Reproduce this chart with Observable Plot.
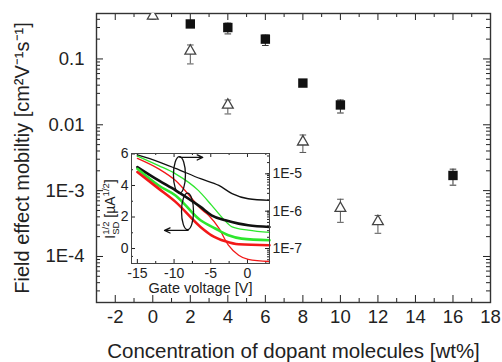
<!DOCTYPE html>
<html>
<head>
<meta charset="utf-8">
<script src="https://cdn.jsdelivr.net/npm/d3@7"></script>
<script src="https://cdn.jsdelivr.net/npm/@observablehq/plot@0.6"></script>
<style>
  html, body { margin: 0; padding: 0; background: #fff; }
  #wrap { position: relative; width: 502px; height: 362px; overflow: hidden; }
  #wrap svg { position: absolute; }
</style>
</head>
<body>
<div id="wrap"></div>
<script>
// ---------------- main chart data ----------------
const squareConc = [2, 4, 6, 8, 10, 16];
const squareMobility = [0.34, 0.30, 0.20, 0.043, 0.020, 0.0017];
const squareLow = [0.31, 0.24, 0.16, 0.041, 0.0151, 0.00121];
const squareHigh = [0.37, 0.35, 0.23, 0.046, 0.0238, 0.00212];

const triangleConc = [0, 2, 4, 8, 10, 12];
const triangleMobility = [0.45, 0.132, 0.020, 0.0055, 0.00054, 0.00034];
const triangleLow = [0.40, 0.084, 0.0146, 0.0038, 0.00033, 0.000225];
const triangleHigh = [0.52, 0.163, 0.0238, 0.0070, 0.00074, 0.00042];

const xTickValues = [-2, 0, 2, 4, 6, 8, 10, 12, 14, 16, 18];
const xMinorValues = [-1, 1, 3, 5, 7, 9, 11, 13, 15, 17];
const yTickValues = [0.1, 0.01, 0.001, 0.0001];
const yTickLabels = ["0.1", "0.01", "1E-3", "1E-4"];
const xLabel = "Concentration of dopant molecules [wt%]";
const yLabel = "Field effect mobiltiy [cm²V⁻¹s⁻¹]";

// ---------------- inset data ----------------
// thick lines: sqrt(I_SD) [µA^1/2], left axis
const vSqrtBlack = [-15, -12.1, -9.8, -6.4, -4.9, -3.0, -1.2, 0.1, 3];
const sqrtBlack  = [5.17, 4.32, 3.69, 2.64, 2.11, 1.79, 1.58, 1.48, 1.37];
const vSqrtGreen = [-15, -12.1, -9.8, -6.4, -4.4, -2.6, -0.8, 3];
const sqrtGreen  = [5.06, 4.0, 3.37, 1.79, 1.27, 0.84, 0.63, 0.53];
const vSqrtRed   = [-15, -12.1, -9.8, -6.4, -4.9, -3.0, -1.2, 3];
const sqrtRed    = [4.85, 3.8, 2.96, 1.37, 0.84, 0.46, 0.27, 0.21];
// thin lines: I_SD [A], right log axis
const vLogBlack = [-15, -12.1, -9.8, -6.4, -3.9, -2.1, 0.1, 3];
const curBlack  = [3.2e-5, 2.1e-5, 1.4e-5, 7.4e-6, 4.9e-6, 2.95e-6, 2.15e-6, 1.95e-6];
const vLogGreen = [-15, -12.1, -9.8, -6.7, -4.9, -3.5, -2.1, 0.1, 3];
const curGreen  = [3.0e-5, 1.66e-5, 1.0e-5, 3.6e-6, 1.45e-6, 6.9e-7, 3.8e-7, 3.1e-7, 2.7e-7];
const vLogRed   = [-15, -12.1, -9.8, -7.5, -6.4, -5.3, -3.9, -2.6, -1.2, 0.1, 3];
const curRed    = [2.6e-5, 1.36e-5, 6.6e-6, 2.1e-6, 1.17e-6, 7.8e-7, 3.5e-7, 1.23e-7, 6.6e-8, 5.1e-8, 4.5e-8];

const insetXTicks = [-15, -10, -5, 0];
const insetXMinor = [-12.5, -7.5, -2.5, 2.5];
const insetYTicks = [0, 2, 4, 6];
const insetYMinor = [-0.5, 1, 3, 5];
const rightTickCurrents = [1e-5, 1e-6, 1e-7];
const rightTickLabels = ["1E-5", "1E-6", "1E-7"];
const insetXLabel = "Gate voltage [V]";

// annotations (ellipse centres, arrows) in inset data units
const ellipseGate = [-9.2, -8.1];
const ellipseSqrt = [4.64, 2.32];
const arrowGate1 = [-9.2, -8.1];
const arrowGate2 = [-6.1, -11.3];
const arrowSqrt = [5.78, 1.15];

// right axis alignment: 1E-7 sits at 0 on the left axis, one decade = 2.37 units
const rightZeroLog = -7, rightDecade = 2.37;
const toLeft = I => rightDecade * (Math.log10(I) - rightZeroLog);

// ---------------- styling ----------------
const FONT = "'Liberation Sans', Arial, Helvetica, sans-serif";
const INK = "#222";
const GREEN = "#2ee62e";
const RED = "#f21818";

const W = 502, H = 362;
const mL = 96, mR = 12, mT = 13, mB = 60;
const fw = W - mL - mR, fh = H - mT - mB;

const squares = squareConc.map((x, i) => ({x, y: squareMobility[i], lo: squareLow[i], hi: squareHigh[i]}));
const triangles = triangleConc.map((x, i) => ({x, y: triangleMobility[i], lo: triangleLow[i], hi: triangleHigh[i]}));

const yMinor = [];
for (const d of [1e-5, 1e-4, 1e-3, 1e-2, 1e-1]) for (let k = 2; k <= 9; k++) {
  const v = d * k; if (v > 2.0e-5 && v < 0.49) yMinor.push(v);
}
const yDomain = [2.0e-5, 0.49];

const capSymbol = {draw(ctx, size) { const r = Math.sqrt(size / Math.PI); ctx.moveTo(-r, 0); ctx.lineTo(r, 0); }};

const main = Plot.plot({
  width: W, height: H,
  marginLeft: mL, marginRight: mR, marginTop: mT, marginBottom: mB,
  x: {domain: [-3, 18], axis: null},
  y: {type: "log", domain: yDomain, axis: null},
  style: {fontFamily: FONT, background: "transparent", color: INK, overflow: "visible"},
  marks: [
    Plot.tickX(xTickValues, {x: d => d, insetTop: fh - 7, stroke: INK}),
    Plot.tickX(xTickValues, {x: d => d, insetBottom: fh - 7, stroke: INK}),
    Plot.tickX(xMinorValues, {x: d => d, insetTop: fh - 4, stroke: INK}),
    Plot.tickX(xMinorValues, {x: d => d, insetBottom: fh - 4, stroke: INK}),
    Plot.tickY(yTickValues, {y: d => d, insetRight: fw - 7, stroke: INK}),
    Plot.tickY(yTickValues, {y: d => d, insetLeft: fw - 7, stroke: INK}),
    Plot.tickY(yMinor, {y: d => d, insetRight: fw - 4, stroke: INK}),
    Plot.tickY(yMinor, {y: d => d, insetLeft: fw - 4, stroke: INK}),
    Plot.frame({stroke: "#333", strokeWidth: 1.4}),
    Plot.text(xTickValues, {x: d => d, text: d => String(d), frameAnchor: "bottom", dy: 15, lineAnchor: "middle", fontSize: 18.5, fill: INK}),
    Plot.text(yTickValues, {y: d => d, text: (d, i) => yTickLabels[i], frameAnchor: "left", textAnchor: "end", dx: -12, lineAnchor: "middle", fontSize: 18.5, fill: INK}),
    Plot.text([xLabel], {text: d => d, frameAnchor: "bottom", dy: 49, lineAnchor: "middle", fontSize: 20.5, fill: INK}),
    Plot.text([yLabel], {text: d => d, frameAnchor: "left", textAnchor: "middle", dx: -74, rotate: -90, lineAnchor: "middle", fontSize: 20, fill: INK}),
    // error bars
    Plot.ruleX(triangles, {x: "x", y1: "lo", y2: "hi", stroke: "#555", strokeWidth: 1, clip: true}),
    Plot.dot(triangles, {x: "x", y: "lo", symbol: capSymbol, r: 3.3, fill: "none", stroke: "#555", strokeWidth: 1, clip: true}),
    Plot.dot(triangles, {x: "x", y: "hi", symbol: capSymbol, r: 3.3, fill: "none", stroke: "#555", strokeWidth: 1, clip: true}),
    Plot.ruleX(squares, {x: "x", y1: "lo", y2: "hi", stroke: "#333", strokeWidth: 1}),
    Plot.dot(squares, {x: "x", y: "lo", symbol: capSymbol, r: 3.3, fill: "none", stroke: "#333", strokeWidth: 1}),
    Plot.dot(squares, {x: "x", y: "hi", symbol: capSymbol, r: 3.3, fill: "none", stroke: "#333", strokeWidth: 1}),
    // markers
    Plot.dot(triangles, {x: "x", y: "y", symbol: "triangle", r: 4, fill: "white", stroke: "#444", strokeWidth: 1.3, clip: true}),
    Plot.dot(squares, {x: "x", y: "y", symbol: "square", r: 5.3, fill: "#111", stroke: "none"})
  ]
});
main.style.left = "0px"; main.style.top = "0px";
document.getElementById("wrap").appendChild(main);

// ---------------- inset ----------------
const iLeft = 96, iTop = 150;
const imL = 35, imR = 36, imT = 3, imB = 40;
const iW = 209, iH = 153;
const ifw = iW - imL - imR, ifh = iH - imT - imB;

const thick = [
  ...vSqrtBlack.map((g, i) => ({g, v: sqrtBlack[i], s: "black"})),
  ...vSqrtGreen.map((g, i) => ({g, v: sqrtGreen[i], s: "green"})),
  ...vSqrtRed.map((g, i) => ({g, v: sqrtRed[i], s: "red"}))
];
const thin = [
  ...vLogBlack.map((g, i) => ({g, v: toLeft(curBlack[i]), s: "black"})),
  ...vLogGreen.map((g, i) => ({g, v: toLeft(curGreen[i]), s: "green"})),
  ...vLogRed.map((g, i) => ({g, v: toLeft(curRed[i]), s: "red"}))
];
const colorOf = {black: "#111", green: GREEN, red: RED};

const rightMinor = [];
for (const d of [1e-8, 1e-7, 1e-6, 1e-5, 1e-4]) for (let k = 1; k <= 9; k++) {
  const v = toLeft(d * k); if (v > -0.95 && v < 6.03) rightMinor.push(v);
}
const rightMajor = rightTickCurrents.map(toLeft);

const arrows = arrowGate1.map((g, i) => ({x1: g, x2: arrowGate2[i], y: arrowSqrt[i]}));

function ellipseMark(index, scales) {
  const g = d3.create("svg:g");
  ellipseGate.forEach((gv, i) => {
    g.append("ellipse")
      .attr("cx", scales.x(gv)).attr("cy", scales.y(ellipseSqrt[i]))
      .attr("rx", 6).attr("ry", 18.3)
      .attr("fill", "none").attr("stroke", "#111").attr("stroke-width", 1.3);
  });
  return g.node();
}

const inset = Plot.plot({
  width: iW, height: iH,
  marginLeft: imL, marginRight: imR, marginTop: imT, marginBottom: imB,
  x: {domain: [-15.8, 3.0], axis: null},
  y: {domain: [-0.95, 6.03], axis: null},
  style: {fontFamily: FONT, background: "transparent", color: INK, overflow: "visible"},
  marks: [
    Plot.tickX(insetXTicks, {x: d => d, insetTop: ifh - 4, stroke: INK}),
    Plot.tickX(insetXTicks, {x: d => d, insetBottom: ifh - 4, stroke: INK}),
    Plot.tickX(insetXMinor, {x: d => d, insetTop: ifh - 2, stroke: INK}),
    Plot.tickX(insetXMinor, {x: d => d, insetBottom: ifh - 2, stroke: INK}),
    Plot.tickY(insetYTicks, {y: d => d, insetRight: ifw - 4, stroke: INK}),
    Plot.tickY(insetYMinor, {y: d => d, insetRight: ifw - 2, stroke: INK}),
    Plot.tickY(rightMajor, {y: d => d, insetLeft: ifw - 4, stroke: INK}),
    Plot.tickY(rightMinor, {y: d => d, insetLeft: ifw - 2, stroke: INK}),
    Plot.line(thin, {x: "g", y: "v", z: "s", stroke: d => colorOf[d.s], strokeWidth: 1.3, curve: "monotone-x"}),
    Plot.line(thick, {x: "g", y: "v", z: "s", stroke: d => colorOf[d.s], strokeWidth: 2.6, curve: "monotone-x"}),
    Plot.frame({stroke: "#444", strokeWidth: 1}),
    ellipseMark,
    Plot.arrow(arrows, {x1: "x1", x2: "x2", y1: "y", y2: "y", stroke: "#111", strokeWidth: 1.3, headLength: 7, headAngle: 50}),
    Plot.text(insetXTicks, {x: d => d, text: d => String(d), frameAnchor: "bottom", dy: 10, lineAnchor: "middle", fontSize: 14, fill: INK}),
    Plot.text(insetYTicks, {y: d => d, text: d => String(d), frameAnchor: "left", textAnchor: "end", dx: -3, lineAnchor: "middle", fontSize: 14, fill: INK}),
    Plot.text(rightMajor, {y: d => d, text: (d, i) => rightTickLabels[i], frameAnchor: "right", textAnchor: "start", dx: 3, lineAnchor: "middle", fontSize: 14, fill: INK}),
    Plot.text([insetXLabel], {text: d => d, frameAnchor: "bottom", dy: 25, lineAnchor: "middle", fontSize: 14.5, fill: INK})
  ]
});
inset.style.left = iLeft + "px"; inset.style.top = iTop + "px";
document.getElementById("wrap").appendChild(inset);

// inset y label with sub/superscripts
const lab = d3.select(inset).append("text")
  .attr("transform", `translate(${114.5 - iLeft},${209 - iTop}) rotate(-90)`)
  .attr("text-anchor", "middle")
  .attr("font-family", FONT).attr("font-size", 14).attr("fill", INK);
lab.append("tspan").text("I");
lab.append("tspan").attr("font-size", 9.5).attr("dy", 4).text("SD");
lab.append("tspan").attr("font-size", 9.5).attr("dx", -13.2).attr("dy", -10).text("1/2");
lab.append("tspan").attr("dy", 6).text(" [µA");
lab.append("tspan").attr("font-size", 9.5).attr("dy", -6).text("1/2");
lab.append("tspan").attr("dy", 6).text("]");
</script>
</body>
</html>
